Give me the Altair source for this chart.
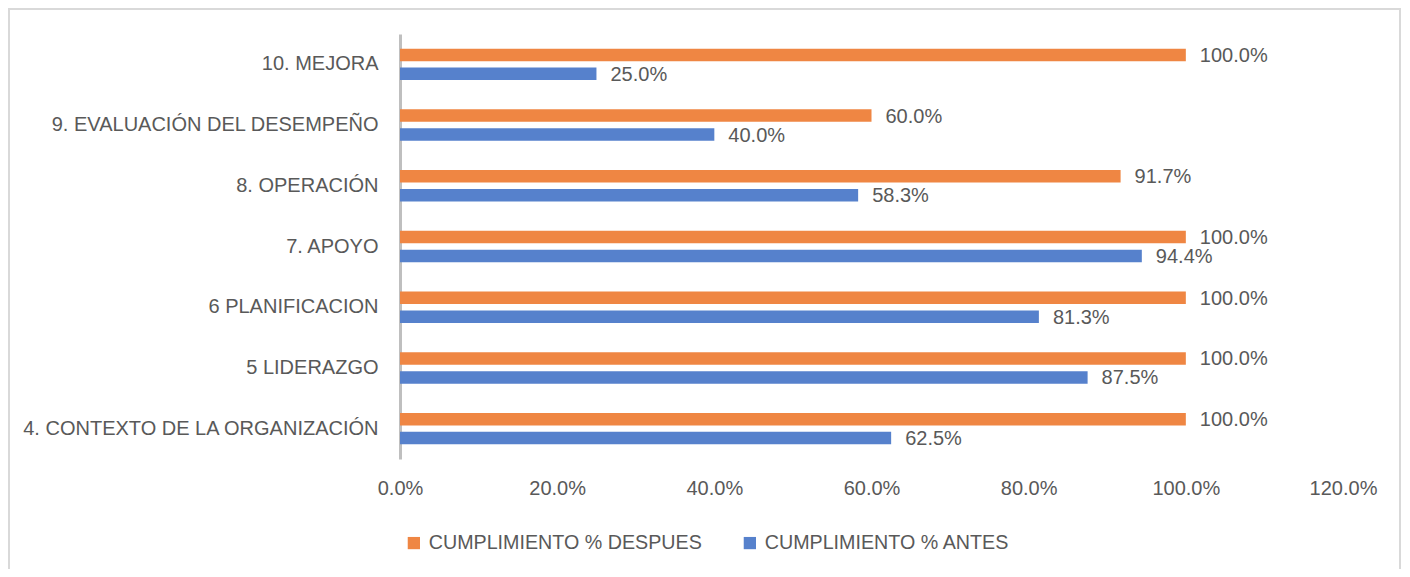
import altair as alt
import pandas as pd

categories = [
    "10. MEJORA",
    "9. EVALUACIÓN DEL DESEMPEÑO",
    "8. OPERACIÓN",
    "7. APOYO",
    "6 PLANIFICACION",
    "5 LIDERAZGO",
    "4. CONTEXTO DE LA ORGANIZACIÓN",
]
series_names = ["CUMPLIMIENTO % DESPUES", "CUMPLIMIENTO % ANTES"]
despues = [1.0, 0.60, 0.917, 1.0, 1.0, 1.0, 1.0]
antes = [0.25, 0.40, 0.583, 0.944, 0.813, 0.875, 0.625]
x_ticks = [0.0, 0.2, 0.4, 0.6, 0.8, 1.0, 1.2]
colors = ["#EF8643", "#5681CC"]

rows = []
for c, d, a in zip(categories, despues, antes):
    rows.append({"cat": c, "serie": series_names[0], "val": d})
    rows.append({"cat": c, "serie": series_names[1], "val": a})
df = pd.DataFrame(rows)

FONT = "Liberation Sans"
TXT = "#595959"

y_enc = alt.Y("cat:N", sort=categories,
              scale=alt.Scale(paddingInner=0.47, paddingOuter=0.235),
              axis=alt.Axis(title=None, labelFontSize=20, labelColor=TXT, labelFont=FONT,
                            labelPadding=22, ticks=False, tickSize=0, domainColor="#BFBFBF",
                            domainWidth=3, labelLimit=500))
yoff = alt.YOffset("serie:N", sort=series_names,
                   scale=alt.Scale(domain=series_names, paddingInner=0.34, paddingOuter=0.02))
x_enc = alt.X("val:Q", scale=alt.Scale(domain=[0, 1.2], nice=False),
              axis=alt.Axis(title=None, values=x_ticks, format=".1%", grid=False, domain=False,
                            ticks=False, tickSize=0, labelFontSize=20, labelColor=TXT,
                            labelFont=FONT, labelPadding=19, labelFlush=False))
color_enc = alt.Color("serie:N", sort=series_names,
                      scale=alt.Scale(domain=series_names, range=colors),
                      legend=alt.Legend(title=None, orient="none", legendX=4, legendY=499,
                                        direction="horizontal", symbolType="square",
                                        symbolSize=150, symbolStrokeWidth=0,
                                        labelFontSize=19.7, labelColor=TXT, labelFont=FONT,
                                        columnPadding=38, labelOffset=5, labelLimit=500))

base = alt.Chart(df)
bars = base.mark_bar(height={"band": 1}).encode(x=x_enc, y=y_enc, yOffset=yoff, color=color_enc)
labels = base.mark_text(align="left", baseline="middle", dx=14, dy=1, fontSize=20,
                        font=FONT, color=TXT).encode(
    x="val:Q", y=alt.Y("cat:N", sort=categories), yOffset=alt.YOffset("serie:N", sort=series_names),
    text=alt.Text("val:Q", format=".1%"))

frame = alt.Chart(pd.DataFrame({"a": [0]})).mark_rect(
    fill="transparent", stroke="#D9D9D9", strokeWidth=2, clip=False).encode(
    x=alt.value(-391), x2=alt.value(1000), y=alt.value(-25), y2=alt.value(562))

chart = alt.layer(frame, bars, labels).properties(
    width=943, height=425,
    autosize=alt.AutoSizeParams(type="none"),
    padding={"left": 392, "top": 26, "right": 59, "bottom": 110},
    background="white",
).configure_view(stroke=None)

chart.save("out.html", embed_options={"renderer": "svg", "actions": False})
